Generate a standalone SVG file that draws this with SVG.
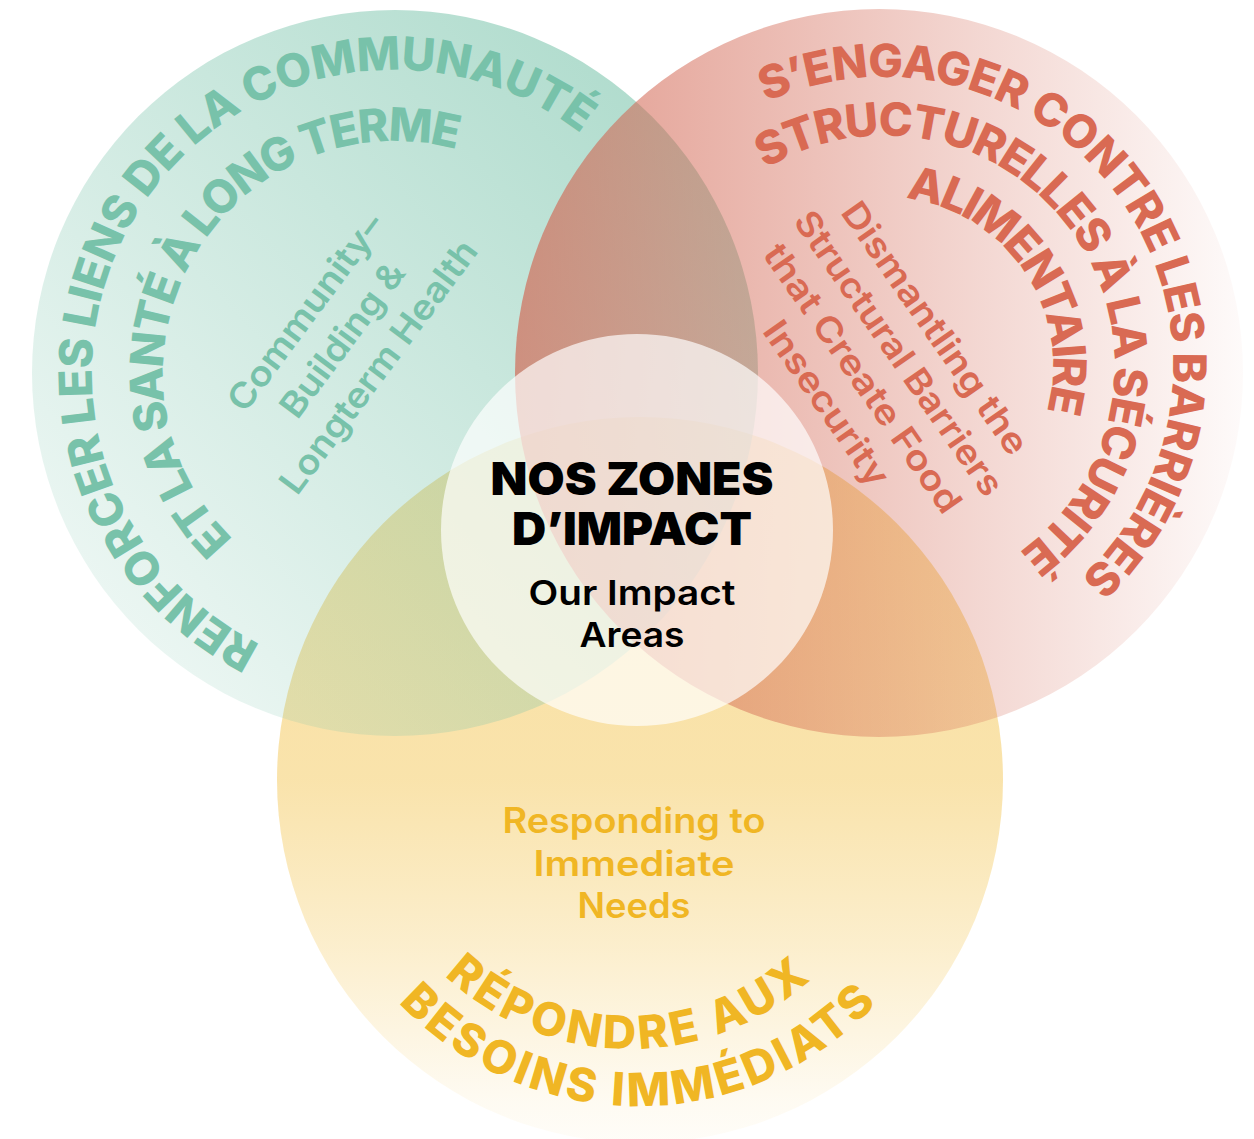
<svg xmlns="http://www.w3.org/2000/svg" width="1254" height="1139" viewBox="0 0 1254 1139">
<style>
.arc{font-family:Inter,Lato,"DejaVu Sans",sans-serif;font-weight:800;font-size:46px}
.sub{font-family:Inter,"Open Sans",sans-serif;font-weight:600;font-size:35px;text-anchor:middle}
.ttl{font-family:Inter,Lato,sans-serif;font-weight:900;font-size:45px;text-anchor:middle;fill:#000}
.ttl2{font-family:Inter,"Open Sans",sans-serif;font-weight:600;font-size:34px;text-anchor:middle;fill:#000}
.green{fill:#78c2aa}
.red{fill:#d96a53}
.yellow{fill:#f0b624}
</style>
<defs>
<linearGradient id="gGreen" gradientUnits="userSpaceOnUse" x1="100" y1="650" x2="700" y2="100">
<stop offset="0" stop-color="#78c3aa" stop-opacity="0.13"/>
<stop offset="1" stop-color="#78c3aa" stop-opacity="0.6"/>
</linearGradient>
<linearGradient id="gRed" gradientUnits="userSpaceOnUse" x1="515" y1="0" x2="1243" y2="0">
<stop offset="0" stop-color="#d26450" stop-opacity="0.66"/>
<stop offset="1" stop-color="#d26450" stop-opacity="0.03"/>
</linearGradient>
<linearGradient id="gYellow" gradientUnits="userSpaceOnUse" x1="0" y1="417" x2="0" y2="1143">
<stop offset="0" stop-color="#f6d278" stop-opacity="0.7"/>
<stop offset="0.5" stop-color="#f6d278" stop-opacity="0.62"/>
<stop offset="0.73" stop-color="#f6d278" stop-opacity="0.37"/>
<stop offset="0.94" stop-color="#f6d278" stop-opacity="0.1"/>
<stop offset="1" stop-color="#f6d278" stop-opacity="0.05"/>
</linearGradient>
<path id="pG1" d="M260.3,644.4 A303,303 0 1 1 581.5,134.2"/>
<path id="pG2" d="M233.2,539.3 A232,232 0 0 1 457.8,149.7"/>
<path id="pR1" d="M766.0,102.2 A289,289 0 0 1 1080.0,578.4"/>
<path id="pR2" d="M765.5,168.8 A230,230 0 0 1 1016.9,553.7"/>
<path id="pR3" d="M905.5,198.4 A169,169 0 0 1 1046.5,412.3"/>
<path id="pY1" d="M444.7,975.4 A270,270 0 0 0 811.4,979.0"/>
<path id="pY2" d="M398.6,1002.6 A329,329 0 0 0 877.1,1003.1"/>
</defs>

<g id="node-yellow">
<circle cx="640" cy="780" r="363" fill="url(#gYellow)"/>
<text class="sub yellow"><tspan x="634" y="833" textLength="263" lengthAdjust="spacingAndGlyphs">Responding to</tspan><tspan x="634" y="876" textLength="201" lengthAdjust="spacingAndGlyphs">Immediate</tspan><tspan x="634" y="918" textLength="113" lengthAdjust="spacingAndGlyphs">Needs</tspan></text>
<text class="arc yellow"><textPath href="#pY1" textLength="402" lengthAdjust="spacing">RÉPONDRE AUX</textPath></text>
<text class="arc yellow"><textPath href="#pY2" textLength="535" lengthAdjust="spacing">BESOINS IMMÉDIATS</textPath></text>
</g>

<g id="node-green">
<circle cx="395" cy="373" r="363" fill="url(#gGreen)"/>
<text class="arc green"><textPath href="#pG1" textLength="1012" lengthAdjust="spacing">RENFORCER LES LIENS DE LA COMMUNAUTÉ</textPath></text>
<text class="arc green"><textPath href="#pG2" textLength="612" lengthAdjust="spacing">ET LA SANTÉ À LONG TERME</textPath></text>
<g transform="translate(352,347) rotate(-53.4)">
<text class="sub green"><tspan x="0" y="-46" textLength="236" lengthAdjust="spacingAndGlyphs">Community–</tspan><tspan x="0" y="0" textLength="184" lengthAdjust="spacingAndGlyphs">Building &amp;</tspan><tspan x="0" y="45" textLength="306" lengthAdjust="spacingAndGlyphs">Longterm Health</tspan></text>
</g>
</g>

<g id="node-red">
<circle cx="879" cy="373" r="364" fill="url(#gRed)"/>
<text class="arc red"><textPath href="#pR1" textLength="813" lengthAdjust="spacing">S’ENGAGER CONTRE LES BARRIÈRES</textPath></text>
<text class="arc red"><textPath href="#pR2" textLength="704" lengthAdjust="spacing">STRUCTURELLES À LA SÉCURITÉ</textPath></text>
<text class="arc red"><textPath href="#pR3" textLength="290" lengthAdjust="spacing">ALIMENTAIRE</textPath></text>
<g transform="translate(925,335) rotate(55.2)">
<text class="sub red"><tspan x="0" y="0" textLength="299" lengthAdjust="spacingAndGlyphs">Dismantling the</tspan><tspan x="0" y="44" textLength="338" lengthAdjust="spacingAndGlyphs">Structural Barriers</tspan><tspan x="0" y="88" textLength="319" lengthAdjust="spacingAndGlyphs">that Create Food</tspan><tspan x="0" y="132" textLength="193" lengthAdjust="spacingAndGlyphs">Insecurity</tspan></text>
</g>
</g>

<g id="node-center">
<circle cx="637" cy="530" r="196" fill="#ffffff" fill-opacity="0.68"/>
<text class="ttl" x="632" y="495" textLength="283" lengthAdjust="spacingAndGlyphs">NOS ZONES</text>
<text class="ttl" x="632" y="545" textLength="240" lengthAdjust="spacingAndGlyphs">D’IMPACT</text>
<text class="ttl2" x="632" y="605" textLength="207" lengthAdjust="spacingAndGlyphs">Our Impact</text>
<text class="ttl2" x="632" y="647" textLength="105" lengthAdjust="spacingAndGlyphs">Areas</text>
</g>

<g id="connectors"/>
</svg>
